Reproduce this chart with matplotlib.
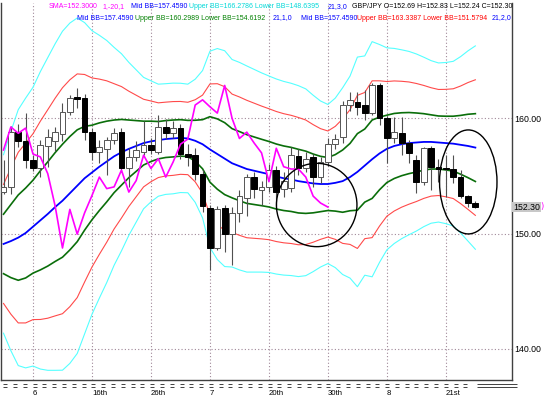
import numpy as np
import matplotlib
matplotlib.use('Agg')
import matplotlib.pyplot as plt
import matplotlib.transforms as mtransforms
from matplotlib.patches import Ellipse

# GBP/JPY daily candles
opens = [153.6, 154.05, 158.8, 158.05, 156.4, 155.7, 157.6, 158.0, 158.6, 160.55,
         161.85, 161.75, 158.8, 157.1, 157.3, 158.1, 158.85, 155.65, 156.6, 157.1,
         157.7, 157.1, 159.25, 158.7, 159.15, 156.9, 156.8, 155.2, 152.2, 148.75,
         152.2, 149.95, 151.8, 153.05, 154.9, 153.8, 154.05, 155.5, 153.9, 153.95,
         156.75, 155.65, 156.6, 154.9, 156.2, 157.75, 158.4, 161.15, 161.45, 161.15,
         160.45, 162.85, 160.0, 158.25, 158.7, 157.85, 156.4, 154.5, 157.4, 155.8,
         155.65, 155.6, 154.9, 153.25, 152.69]
highs = [156.4, 159.3, 159.5, 160.45, 156.8, 158.1, 159.1, 159.25, 161.3, 162.0,
         162.6, 162.1, 159.2, 158.1, 158.4, 159.15, 159.2, 157.4, 158.0, 159.8,
         158.3, 160.3, 159.9, 159.8, 159.5, 157.8, 157.4, 155.5, 152.5, 152.4,
         152.5, 152.3, 153.8, 155.2, 155.3, 154.6, 156.0, 155.9, 155.3, 157.55,
         157.3, 157.1, 156.9, 156.6, 158.3, 158.6, 161.5, 162.3, 162.3, 162.45,
         163.05, 163.1, 160.2, 160.15, 160.15, 158.1, 156.8, 157.5, 157.6, 156.5,
         156.8, 156.8, 155.5, 153.35, 152.83]
lows = [153.4, 153.4, 157.5, 155.7, 155.4, 154.9, 155.8, 157.2, 158.0, 160.3,
        160.9, 158.1, 156.4, 156.1, 155.1, 157.8, 155.3, 154.0, 156.3, 156.8,
        156.9, 156.9, 158.2, 158.3, 156.5, 155.9, 154.65, 151.85, 146.85, 148.6,
        148.4, 147.3, 151.0, 151.5, 153.1, 152.5, 153.6, 152.35, 153.2, 153.6,
        155.1, 155.3, 154.0, 154.4, 155.9, 157.3, 157.9, 160.6, 160.3, 159.85,
        160.3, 159.4, 156.1, 157.9, 156.8, 156.1, 153.5, 154.2, 153.8, 154.5,
        153.2, 154.35, 153.05, 152.3, 152.24]
closes = [154.05, 158.8, 158.05, 156.4, 155.7, 157.7, 158.4, 158.85, 160.55, 161.75,
          161.65, 158.8, 157.1, 157.5, 158.1, 158.7, 155.65, 156.6, 157.25, 157.7,
          157.25, 159.25, 158.7, 159.15, 156.9, 156.65, 155.2, 152.4, 148.75, 152.1,
          149.95, 151.8, 153.3, 154.9, 153.9, 154.05, 155.5, 153.6, 154.6, 156.8,
          155.65, 156.5, 154.9, 156.2, 157.75, 158.2, 161.15, 161.6, 161.0, 160.45,
          162.85, 160.0, 158.25, 158.8, 157.85, 157.0, 154.5, 157.4, 155.8, 155.6,
          155.6, 154.9, 153.25, 152.65, 152.30]

# Bollinger middle line (21 SMA) and one standard deviation
mid_bb = [149.1, 149.35, 149.65, 150.05, 150.6, 151.15, 151.7, 152.3, 152.85, 153.5,
          154.15, 154.8, 155.3, 155.8, 156.25, 156.7, 157.05, 157.35, 157.6, 157.85,
          158.0, 158.1, 158.2, 158.25, 158.3, 158.25, 158.05, 157.75, 157.3, 156.9,
          156.5, 156.1, 155.85, 155.6, 155.45, 155.3, 155.15, 154.95, 154.8, 154.7,
          154.55, 154.45, 154.35, 154.3, 154.3, 154.4, 154.55, 154.9, 155.35, 155.9,
          156.45, 156.95, 157.35, 157.6, 157.75, 157.85, 157.9, 157.95, 157.95, 157.9,
          157.85, 157.8, 157.7, 157.6, 157.46]
sd_bb = [2.58, 3.17, 3.7, 3.9, 4.03, 4.3, 4.52, 4.72, 4.9, 4.92,
         4.85, 4.5, 4.1, 3.8, 3.5, 3.15, 2.85, 2.5, 2.2, 1.9,
         1.75, 1.62, 1.6, 1.6, 1.58, 1.57, 1.78, 2.13, 2.84, 3.05,
         3.12, 3.0, 3.0, 2.98, 2.93, 2.88, 2.84, 2.82, 2.8, 2.78,
         2.76, 2.7, 2.55, 2.4, 2.3, 2.45, 2.7, 2.92, 3.32, 3.17,
         3.4, 3.15, 2.92, 2.82, 2.73, 2.65, 2.56, 2.45, 2.35, 2.3,
         2.33, 2.38, 2.55, 2.75, 2.94]

date_labels = ['6', '16th', '26th', '7', '20th', '30th', '8', '21st']
y_ticks = [140, 150, 160]
lag_shift = 20

W, H = 549, 396
fig = plt.figure(figsize=(W / 100, H / 100), dpi=100)
ax = fig.add_axes([1 / W, 16 / H, 510.7 / W, 377 / H])

x = np.arange(len(closes))
o = np.array(opens)
c = np.array(closes)
mid = np.array(mid_bb)
sd = np.array(sd_bb)

# bands
ax.plot(x, mid + 3 * sd, color='#55ffff', lw=0.8, zorder=2)
ax.plot(x, mid - 3 * sd, color='#55ffff', lw=0.8, zorder=2)
ax.plot(x, mid + 2 * sd, color='#ff4a4a', lw=0.8, zorder=2)
ax.plot(x, mid - 2 * sd, color='#ff4a4a', lw=0.8, zorder=2)
ax.plot(x, mid + sd, color='#0a6e0a', lw=1.2, zorder=2)
ax.plot(x, mid - sd, color='#0a6e0a', lw=1.2, zorder=2)
ax.plot(x, mid, color='#0000ff', lw=1.3, zorder=2)

# candles
ax.vlines(x, lows, highs, color='#505050', lw=0.8, zorder=3)
up = c >= o
body = np.where(np.abs(c - o) < 0.12, 0.12, np.abs(c - o))
ax.bar(x[up], body[up], bottom=o[up], width=0.78, color='white',
       edgecolor='#555555', lw=0.7, zorder=4)
ax.bar(x[~up], body[~up], bottom=c[~up], width=0.78, color='black',
       edgecolor='black', lw=0.7, zorder=4)

# lagging close (SMA 1, shift -20)
ax.plot(x[:len(c) - lag_shift], c[lag_shift:], color='#ff00ff', lw=1.2, zorder=5)

# hand drawn circles
ax.add_patch(Ellipse((42.48, 152.48), 10.92, 7.23, fill=False, ec='black', lw=1.0, zorder=6))
ax.add_patch(Ellipse((63.04, 154.48), 7.79, 9.02, fill=False, ec='black', lw=1.0, zorder=6))

ax.set_xlim(-0.34, 68.93)
ax.set_ylim(137.3, 170.0)

xt = np.arange(4, 4 + 8 * len(date_labels), 8)
ax.set_xticks(xt)
ax.set_xticklabels(date_labels, ha='left', fontsize=5.6, family='Liberation Sans')
ax.tick_params(axis='x', length=0, pad=7)
ax.yaxis.tick_right()
ax.set_yticks(y_ticks)
ax.set_yticklabels(['%.2f' % v for v in y_ticks], fontsize=6.3, family='Liberation Sans')
ax.tick_params(axis='y', length=0, pad=1.5)
ax.grid(True, linestyle=(0, (1, 2)), color='#a08898', lw=0.8, zorder=0)
for s in ['left', 'right', 'bottom']:
    ax.spines[s].set_color('#404040')
    ax.spines[s].set_linewidth(1.0)
ax.spines['top'].set_visible(False)

# "=" marks under the time axis
trans = mtransforms.blended_transform_factory(ax.transData, ax.transAxes)
dash_x = 0.24 + 1.328 * np.arange(48)
for yy in (-0.0093, -0.0175):
    ax.hlines([yy] * len(dash_x), dash_x - 0.27, dash_x + 0.27, color='#404040',
              lw=0.7, transform=trans, clip_on=False)
    ax.hlines(yy, 64.2, 69.6, color='#404040', lw=0.7, transform=trans, clip_on=False)

# header texts
def head(px, py, txt, col):
    fig.text(px / W, 1 - py / H, txt, color=col, fontsize=5.0,
             family='Liberation Sans', va='center', ha='left')

head(49, 7, 'SMA=152.3000', '#ff00ff')
head(102, 7, '1,-20,1', '#ff00ff')
head(131, 7, 'Mid BB=157.4590', '#0000ff')
head(189, 7, 'Upper BB=166.2786 Lower BB=148.6395', '#00d8d8')
head(328, 7, '21,3,0', '#0000ff')
head(352, 7, 'GBP/JPY O=152.69 H=152.83 L=152.24 C=152.30', 'black')
head(77, 18, 'Mid BB=157.4590', '#0000ff')
head(135, 18, 'Upper BB=160.2989 Lower BB=154.6192', '#008000')
head(273, 18, '21,1,0', '#0000ff')
head(301, 18, 'Mid BB=157.4590', '#0000ff')
head(357, 18, 'Upper BB=163.3387 Lower BB=151.5794', '#ff0000')
head(492, 18, '21,2,0', '#0000ff')

# last price tag
fig.text(513 / W, 1 - 207 / H, '%.2f' % closes[-1], fontsize=6.3, family='Liberation Sans',
         va='center', ha='left', bbox=dict(boxstyle='square,pad=0.1', fc='#c8c8c8', ec='none'))
fig.text(540.5 / W, 1 - 207 / H, ')', color='#ff00ff', fontsize=6, va='center', ha='left')

fig.savefig('out.png', dpi=100)
